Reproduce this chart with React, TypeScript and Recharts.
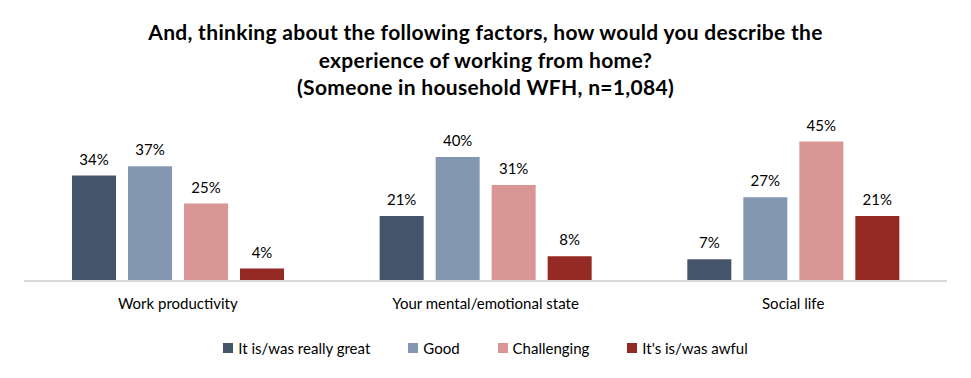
import { Bar, BarChart, LabelList, Legend, XAxis, YAxis } from "recharts";

const categories = ["Work productivity", "Your mental/emotional state", "Social life"];
const reallyGreat = [34, 21, 7];
const good = [37, 40, 27];
const challenging = [25, 31, 45];
const awful = [4, 8, 21];

const data = categories.map((name, i) => ({
  name,
  reallyGreat: reallyGreat[i],
  good: good[i],
  challenging: challenging[i],
  awful: awful[i],
}));

const COLORS = {
  reallyGreat: "#44546A",
  good: "#8497B0",
  challenging: "#DA9694",
  awful: "#952923",
};

const FONT = "Lato, 'Liberation Sans', sans-serif";

const series = [
  { key: "reallyGreat", name: "It is/was really great" },
  { key: "good", name: "Good" },
  { key: "challenging", name: "Challenging" },
  { key: "awful", name: "It's is/was awful" },
] as const;

function LegendContent() {
  return (
    <div
      style={{
        display: "flex",
        justifyContent: "center",
        gap: 38,
        fontSize: 15,
        color: "#000",
      }}
    >
      {series.map((s) => (
        <div key={s.key} style={{ display: "flex", alignItems: "center" }}>
          <span
            style={{
              display: "inline-block",
              width: 10,
              height: 10,
              background: COLORS[s.key],
              marginRight: 5,
            }}
          />
          <span>{s.name}</span>
        </div>
      ))}
    </div>
  );
}

export default function App() {
  return (
    <div
      style={{
        position: "absolute",
        left: 0,
        top: 0,
        width: 971,
        height: 378,
        background: "#fff",
        fontFamily: FONT,
      }}
    >
      <div
        style={{
          position: "absolute",
          top: 18,
          left: 0,
          width: 971,
          textAlign: "center",
          fontWeight: 700,
          fontSize: 21,
          letterSpacing: 0.3,
          lineHeight: "27.5px",
          color: "#000",
        }}
      >
        And, thinking about the following factors, how would you describe the
        <br />
        experience of working from home?
        <br />
        (Someone in household WFH, n=1,084)
      </div>
      <BarChart
        width={971}
        height={378}
        data={data}
        margin={{ top: 126, right: 24, left: 24, bottom: 9 }}
        barSize={44}
        barGap={12}
        style={{ fontFamily: FONT }}
      >
        <XAxis
          dataKey="name"
          height={58}
          axisLine={{ stroke: "#D9D9D9", strokeWidth: 2 }}
          tickLine={false}
          tick={{ fill: "#000", fontSize: 15 }}
          dy={9}
        />
        <YAxis hide domain={[0, 50]} />
        <Legend verticalAlign="bottom" height={30} content={<LegendContent />} />
        {series.map((s) => (
          <Bar
            key={s.key}
            dataKey={s.key}
            name={s.name}
            fill={COLORS[s.key]}
            isAnimationActive={false}
          >
            <LabelList
              dataKey={s.key}
              position="top"
              offset={11}
              formatter={(v: number) => `${v}%`}
              style={{ fill: "#000", fontSize: 15 }}
            />
          </Bar>
        ))}
      </BarChart>
    </div>
  );
}
